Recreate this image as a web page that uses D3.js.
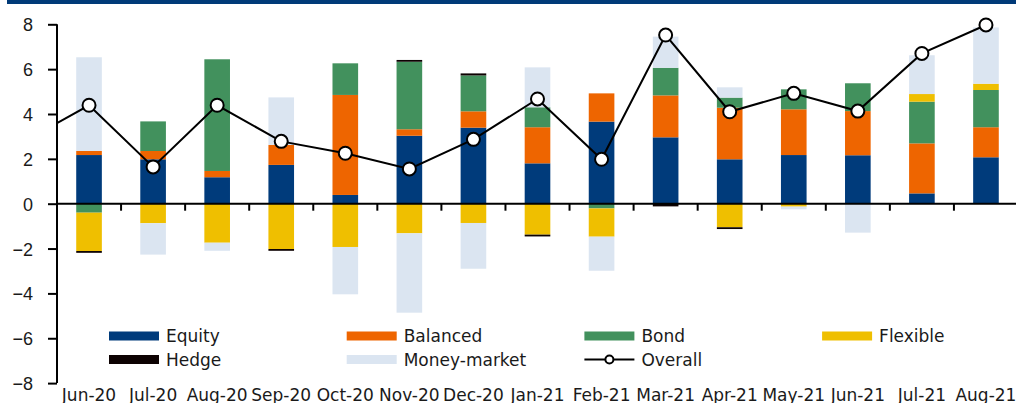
<!DOCTYPE html>
<html lang="en">
<head>
<meta charset="UTF-8">
<title>Fund flows</title>
<script src="https://cdn.jsdelivr.net/npm/d3@7"></script>
<style>
    body { margin: 0; background: white; }
    svg { display: block; font-family: "DejaVu Sans", sans-serif; }
    .tick text { font-size: 18px; fill: #1a1a1a; }
</style>
</head>
<body>
<div id="chart"></div>
<script>
    const months = ["Jun-20", "Jul-20", "Aug-20", "Sep-20", "Oct-20", "Nov-20", "Dec-20", "Jan-21",
        "Feb-21", "Mar-21", "Apr-21", "May-21", "Jun-21", "Jul-21", "Aug-21"];
    const equity   = [2.17, 1.98, 1.18, 1.73, 0.39, 3.03, 3.39, 1.80, 3.66, 2.96, 1.98, 2.17, 2.16, 0.46, 2.07];
    const balanced = [0.18, 0.37, 0.28, 0.89, 4.46, 0.29, 0.73, 1.61, 1.26, 1.87, 2.30, 2.04, 1.97, 2.23, 1.34];
    const bond     = [-0.40, 1.32, 4.98, 0, 1.41, 3.01, 1.60, 0.89, -0.21, 1.23, 0.45, 0.89, 1.24, 1.86, 1.66];
    const flexible = [-1.71, -0.87, -1.74, -2.02, -1.93, -1.32, -0.86, -1.38, -1.26, 0, -1.05, -0.13, 0, 0.34, 0.28];
    const hedge    = [-0.08, 0, 0, -0.08, 0, 0.08, 0.09, -0.08, 0, -0.12, -0.08, 0, 0, 0, 0];
    const moneyMkt = [4.18, -1.40, -0.36, 2.12, -2.11, -3.54, -2.04, 1.78, -1.52, 1.39, 0.46, -0.12, -1.29, 1.73, 2.51];
    const overall  = [4.39, 1.64, 4.39, 2.78, 2.25, 1.55, 2.87, 4.67, 1.98, 7.52, 4.10, 4.92, 4.13, 6.70, 7.97];
    const overallBefore = 2.8; // previous month, only its segment shows (clipped)
    const yTicks = [-8, -6, -4, -2, 0, 2, 4, 6, 8];

    const seriesNames = ["Equity", "Balanced", "Bond", "Flexible", "Hedge", "Money-market"];
    const seriesValues = [equity, balanced, bond, flexible, hedge, moneyMkt];
    const colors = ["#003b7b", "#ee6500", "#42915d", "#efbf00", "#0d0202", "#dbe5f1"];

    (() => {
        const width = 1016, height = 403;
        const plotLeft = 57, plotRight = 1018, plotTop = 24.3, plotBottom = 383.1;

        const rows = months.map((m, i) => {
            const r = { month: m };
            seriesNames.forEach((s, j) => r[s] = seriesValues[j][i]);
            return r;
        });

        const x = d3.scaleBand().domain(months).range([plotLeft, plotRight]).padding(0);
        const y = d3.scaleLinear().domain([-8, 8]).range([plotBottom, plotTop]);
        const barW = x.bandwidth() * 0.4;

        const svg = d3.select("#chart").append("svg")
            .attr("width", width)
            .attr("height", height);

        // top banner
        svg.append("rect")
            .attr("x", 7).attr("y", 0)
            .attr("width", width - 7).attr("height", 4)
            .attr("fill", "#003a78");

        const stack = d3.stack()
            .keys(seriesNames)
            .offset(d3.stackOffsetDiverging);

        svg.append("g")
            .selectAll("g")
            .data(stack(rows))
            .join("g")
            .attr("fill", (d, i) => colors[i])
            .selectAll("rect")
            .data(d => d)
            .join("rect")
            .attr("x", d => x(d.data.month) + (x.bandwidth() - barW) / 2)
            .attr("width", barW)
            .attr("y", d => y(Math.max(d[0], d[1])))
            .attr("height", d => Math.abs(y(d[0]) - y(d[1])));

        // axes
        const yAxis = svg.append("g")
            .attr("transform", `translate(${plotLeft},0)`)
            .call(d3.axisLeft(y).tickValues(yTicks).tickSize(9).tickPadding(15).tickFormat(d3.format("d")));
        yAxis.select(".domain").attr("stroke", "#000").attr("stroke-width", 2).attr("d", `M0,${plotTop}V${plotBottom}`);
        yAxis.selectAll(".tick line").attr("stroke", "#000").attr("stroke-width", 2);
        yAxis.selectAll(".tick text").attr("dy", "0.36em");

        const xAxis = svg.append("g");
        xAxis.append("line")
            .attr("x1", plotLeft).attr("x2", width)
            .attr("y1", y(0)).attr("y2", y(0))
            .attr("stroke", "#000").attr("stroke-width", 2);
        xAxis.selectAll(".xt")
            .data(months.slice(1))
            .join("line")
            .attr("class", "xt")
            .attr("x1", d => x(d)).attr("x2", d => x(d))
            .attr("y1", y(0)).attr("y2", y(0) + 7)
            .attr("stroke", "#000").attr("stroke-width", 2);
        xAxis.selectAll(".xl")
            .data(months)
            .join("text")
            .attr("class", "xl")
            .attr("x", d => x(d) + x.bandwidth() / 2)
            .attr("y", 401)
            .attr("text-anchor", "middle")
            .attr("font-size", 17)
            .attr("fill", "#1a1a1a")
            .text(d => d);

        // overall line
        svg.append("clipPath").attr("id", "plotclip")
            .append("rect").attr("x", plotLeft).attr("y", 0).attr("width", width - plotLeft).attr("height", height);

        const cx = i => x(months[i]) + x.bandwidth() / 2;
        const linePts = [[cx(0) - x.step(), overallBefore]].concat(overall.map((v, i) => [cx(i), v]));
        svg.append("path")
            .attr("clip-path", "url(#plotclip)")
            .attr("d", d3.line().x(d => d[0]).y(d => y(d[1]))(linePts))
            .attr("fill", "none")
            .attr("stroke", "#000")
            .attr("stroke-width", 2);

        svg.append("g")
            .selectAll("circle")
            .data(overall)
            .join("circle")
            .attr("cx", (d, i) => cx(i))
            .attr("cy", d => y(d))
            .attr("r", 6.5)
            .attr("fill", "#fff")
            .attr("stroke", "#000")
            .attr("stroke-width", 2);

        // legend
        const legendItems = seriesNames.map((s, i) => ({ name: s, color: colors[i], type: "bar" }))
            .concat([{ name: "Overall", type: "line" }]);
        const item = svg.append("g")
            .selectAll("g")
            .data(legendItems)
            .join("g")
            .attr("transform", (d, i) => `translate(${109 + (i % 4) * 237.7},${i < 4 ? 336 : 359.5})`);

        item.filter(d => d.type === "bar").append("rect")
            .attr("x", 0).attr("y", -4.5)
            .attr("width", 50).attr("height", 9)
            .attr("fill", d => d.color);
        const lineItem = item.filter(d => d.type === "line");
        lineItem.append("line")
            .attr("x1", 0).attr("x2", 50)
            .attr("stroke", "#000").attr("stroke-width", 2);
        lineItem.append("circle")
            .attr("cx", 25).attr("r", 4)
            .attr("fill", "#fff").attr("stroke", "#000").attr("stroke-width", 2);

        item.append("text")
            .attr("x", 57)
            .attr("y", 0)
            .attr("dy", "0.36em")
            .attr("font-size", 17)
            .attr("fill", "#1a1a1a")
            .text(d => d.name);
    })();
</script>
</body>
</html>
